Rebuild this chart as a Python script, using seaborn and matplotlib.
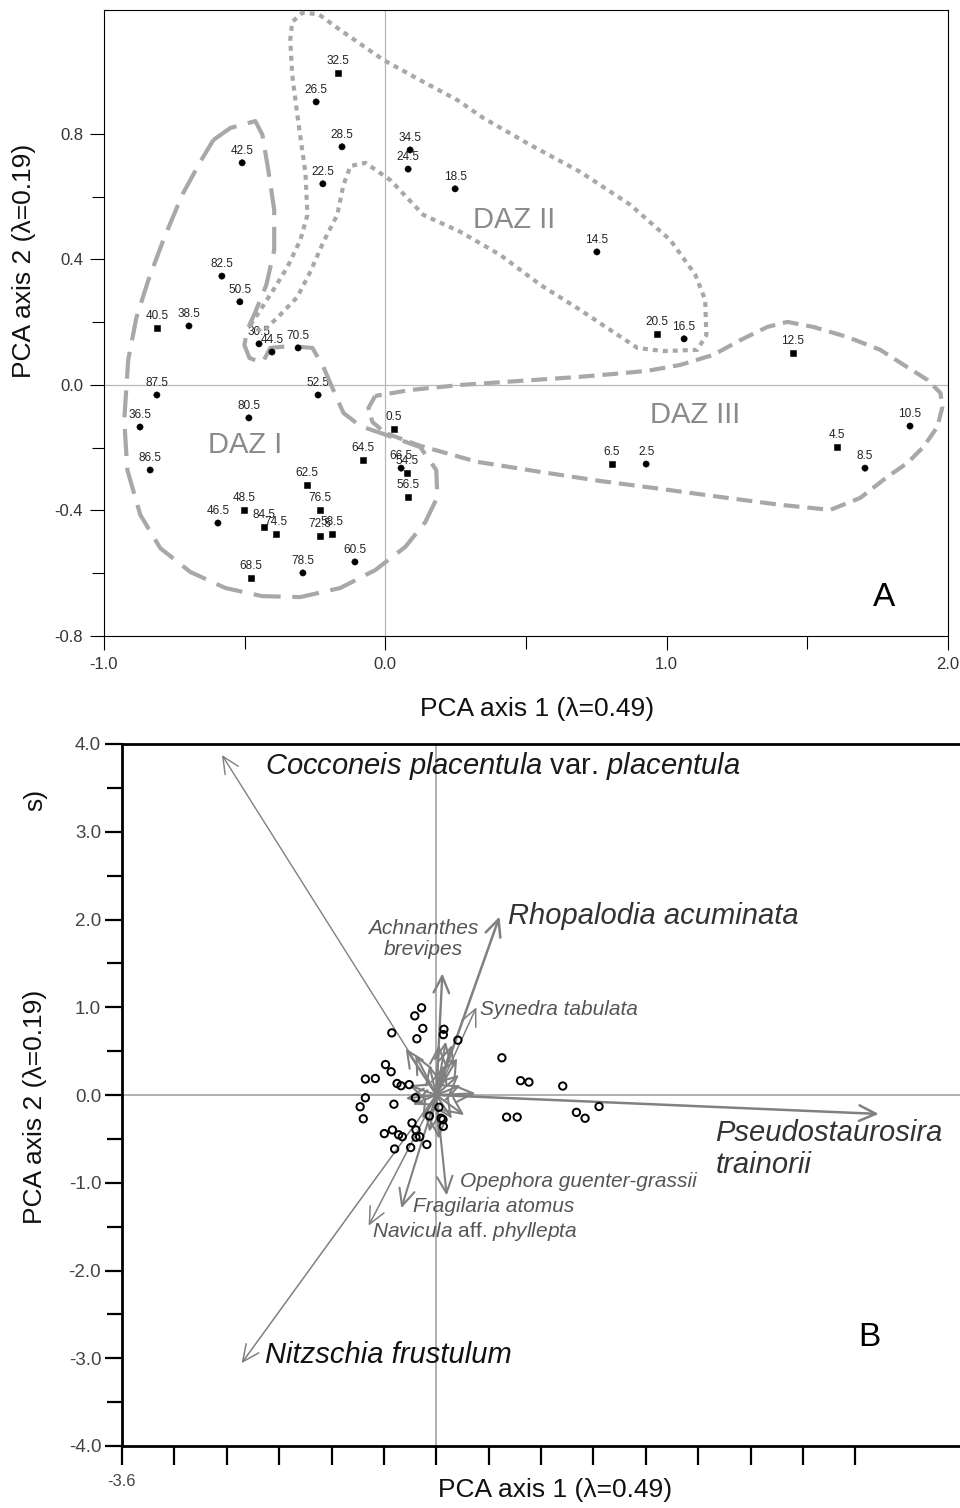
import numpy as np
import pandas as pd
import matplotlib
matplotlib.use("Agg")
import matplotlib.pyplot as plt
import seaborn as sns

sns.set_theme(style="ticks")
plt.rcParams["font.family"] = ["Liberation Sans", "DejaVu Sans"]
plt.rcParams["mathtext.fontset"] = "custom"
plt.rcParams["mathtext.rm"] = "Liberation Sans"
plt.rcParams["mathtext.it"] = "Liberation Sans:italic"

# ---------------- sample scores (depth in cm) ----------------
depth_labels = ["0.5", "2.5", "4.5", "6.5", "8.5", "10.5", "12.5", "14.5", "16.5", "18.5",
                "20.5", "22.5", "24.5", "26.5", "28.5", "30.5", "32.5", "34.5", "36.5", "38.5",
                "40.5", "42.5", "44.5", "46.5", "48.5", "50.5", "52.5", "54.5", "56.5", "58.5",
                "60.5", "62.5", "64.5", "66.5", "68.5", "70.5", "72.5", "74.5", "76.5", "78.5",
                "80.5", "82.5", "84.5", "86.5", "87.5"]
axis1_scores = [0.031, 0.927, 1.606, 0.806, 1.705, 1.865, 1.449, 0.752, 1.062, 0.248,
                0.966, -0.222, 0.081, -0.246, -0.154, -0.449, -0.168, 0.088, -0.872, -0.698,
                -0.812, -0.509, -0.403, -0.595, -0.502, -0.517, -0.239, 0.077, 0.081, -0.190,
                -0.108, -0.278, -0.079, 0.056, -0.477, -0.310, -0.232, -0.389, -0.232, -0.293,
                -0.485, -0.581, -0.431, -0.836, -0.812]
axis2_scores = [-0.140, -0.252, -0.198, -0.252, -0.265, -0.131, 0.102, 0.424, 0.147, 0.625,
                0.163, 0.641, 0.688, 0.902, 0.759, 0.131, 0.994, 0.749, -0.134, 0.188,
                0.182, 0.708, 0.105, -0.440, -0.398, 0.265, -0.032, -0.280, -0.357, -0.475,
                -0.564, -0.319, -0.239, -0.265, -0.615, 0.118, -0.481, -0.475, -0.398, -0.599,
                -0.105, 0.347, -0.453, -0.271, -0.032]
sample_kind = ["square", "circle", "square", "square", "circle", "circle", "square", "circle", "circle", "circle",
               "square", "circle", "circle", "circle", "circle", "circle", "square", "circle", "circle", "circle",
               "square", "circle", "circle", "circle", "square", "circle", "circle", "square", "square", "square",
               "circle", "square", "square", "circle", "square", "circle", "square", "square", "square", "circle",
               "circle", "circle", "square", "circle", "circle"]

# ---------------- hand-drawn zone envelopes (PCA units) ----------------
daz1_x = [-0.611, -0.551, -0.462, -0.437, -0.416, -0.395, -0.395, -0.423, -0.462, -0.491, -0.501,
          -0.483, -0.437, -0.409, -0.338, -0.259, -0.220, -0.185, -0.149, -0.089, -0.007, 0.124,
          0.181, 0.185, 0.142, 0.071, -0.036, -0.160, -0.302, -0.437, -0.569, -0.693, -0.800,
          -0.871, -0.917, -0.928, -0.914, -0.885, -0.842, -0.789, -0.722, -0.658, -0.611]
daz1_y = [0.781, 0.819, 0.841, 0.797, 0.685, 0.558, 0.430, 0.319, 0.233, 0.175, 0.127,
          0.086, 0.070, 0.118, 0.124, 0.118, 0.057, -0.016, -0.089, -0.131, -0.156, -0.198,
          -0.271, -0.357, -0.437, -0.516, -0.590, -0.647, -0.676, -0.673, -0.647, -0.596, -0.520,
          -0.414, -0.271, -0.112, 0.080, 0.214, 0.335, 0.462, 0.606, 0.711, 0.781]
daz2_x = [-0.480, -0.444, -0.398, -0.348, -0.302, -0.277, -0.284, -0.309, -0.331, -0.338, -0.331,
          -0.295, -0.238, -0.160, -0.007, 0.135, 0.256, 0.348, 0.515, 0.693, 0.871, 1.013, 1.102,
          1.137, 1.141, 1.109, 0.988, 0.896, 0.810, 0.693, 0.551, 0.409, 0.267, 0.135, 0.018,
          -0.071, -0.124, -0.149, -0.171, -0.220, -0.267, -0.313, -0.384, -0.437, -0.480]
daz2_y = [0.191, 0.239, 0.303, 0.376, 0.462, 0.542, 0.676, 0.835, 0.988, 1.100, 1.157,
          1.186, 1.182, 1.131, 1.036, 0.966, 0.908, 0.851, 0.765, 0.679, 0.574, 0.462, 0.351,
          0.271, 0.159, 0.112, 0.108, 0.118, 0.169, 0.239, 0.319, 0.414, 0.488, 0.542, 0.653,
          0.708, 0.698, 0.637, 0.542, 0.456, 0.360, 0.280, 0.214, 0.169, 0.191]
daz3_x = [-0.036, -0.060, -0.046, 0.000, 0.124, 0.327, 0.551, 0.764, 0.977, 1.191, 1.404,
          1.582, 1.688, 1.784, 1.855, 1.912, 1.962, 1.980, 1.973, 1.927, 1.855, 1.759, 1.642,
          1.521, 1.429, 1.358, 1.262, 1.166, 1.049, 0.931, 0.810, 0.693, 0.480, 0.267, 0.089, -0.036]
daz3_y = [-0.035, -0.073, -0.118, -0.153, -0.194, -0.245, -0.277, -0.306, -0.331, -0.357, -0.382,
          -0.398, -0.360, -0.293, -0.249, -0.198, -0.134, -0.070, -0.025, 0.016, 0.057, 0.112, 0.153,
          0.185, 0.201, 0.185, 0.143, 0.096, 0.064, 0.045, 0.035, 0.026, 0.013, 0.000, -0.016, -0.035]

# ---------------- species loadings (panel B) ----------------
species_names = ["Cocconeis placentula var. placentula", "Rhopalodia acuminata", "Achnanthes brevipes",
                 "Synedra tabulata", "Pseudostaurosira trainorii", "Opephora guenter-grassii",
                 "Fragilaria atomus", "Navicula aff. phyllepta", "Nitzschia frustulum",
                 "sp1", "sp2", "sp3", "sp4", "sp5", "sp6", "sp7", "sp8", "sp9", "sp10",
                 "sp11", "sp12", "sp13", "sp14", "sp15", "sp16", "sp17", "sp18", "sp19"]
species_x = [-2.455, 0.725, 0.07, 0.46, 5.07, 0.12, -0.40, -0.775, -2.23,
             -0.35, -0.24, 0.11, 0.18, 0.24, 0.26, 0.28, 0.32, 0.18, -0.27,
             -0.31, -0.35, -0.08, 0.03, -0.16, -0.08, 0.09, 0.03, 0.45]
species_y = [3.875, 2.034, 1.386, 1.00, -0.216, -1.145, -1.29, -1.49, -3.057,
             0.53, 0.46, 0.61, 0.57, 0.42, 0.23, 0.11, -0.23, -0.27, -0.11,
             0.11, -0.04, -0.42, -0.50, -0.27, 0.34, 0.34, 0.57, 0.02]
species_width = [1.0, 1.8, 1.7, 1.1, 1.8, 1.5, 1.5, 1.1, 1.1,
                 1.5, 1.5, 1.5, 1.5, 1.5, 1.5, 1.5, 1.5, 1.5, 1.5,
                 1.5, 1.5, 1.5, 1.5, 1.5, 1.5, 1.5, 1.5, 1.5]

samples = pd.DataFrame({"depth": depth_labels, "pc1": axis1_scores,
                        "pc2": axis2_scores, "kind": sample_kind})

W, H = 960, 1508
fig = plt.figure(figsize=(W / 100, H / 100), dpi=100)
axA = fig.add_axes([104 / W, 1 - 636 / H, 844 / W, 626 / H])
axB = fig.add_axes([122 / W, 1 - 1446 / H, 838 / W, 702 / H])

# ======================= Panel A =======================
axA.axhline(0, color="#b8b8b8", lw=0.9, zorder=0)
axA.axvline(0, color="#b8b8b8", lw=0.9, zorder=0)

outline_col = "#a8a8a8"
axA.plot(daz1_x, daz1_y, color=outline_col, lw=3.0, dashes=(6.5, 2.8),
         solid_joinstyle="round", dash_capstyle="butt", zorder=3)
axA.plot(daz2_x, daz2_y, color=outline_col, lw=3.0, dashes=(1.2, 1.2),
         dash_capstyle="butt", zorder=3)
axA.plot(daz3_x, daz3_y, color=outline_col, lw=3.0, dashes=(3.8, 1.9),
         dash_capstyle="butt", zorder=3)

sns.scatterplot(data=samples, x="pc1", y="pc2", style="kind",
                markers={"square": "s", "circle": "o"}, color="black",
                edgecolor="black", linewidth=0.4, s=20, legend=False,
                ax=axA, zorder=4)
for d, x, y in zip(depth_labels, axis1_scores, axis2_scores):
    axA.annotate(d, (x, y), xytext=(0, 8.5), textcoords="offset points",
                 ha="center", va="center", fontsize=8.5, color="#222222", zorder=2)

for txt, x, y in [("DAZ II", 0.459, 0.526), ("DAZ I", -0.498, -0.191), ("DAZ III", 1.102, -0.096)]:
    axA.text(x, y, txt, fontsize=21, color="#8a8a8a", ha="center", va="center", zorder=5)
axA.text(1.774, -0.676, "A", fontsize=24, color="black", ha="center", va="center")

axA.set_xlim(-1.0, 2.0)
axA.set_ylim(-0.8, 1.195)
axA.set_xticks([-1.0, 0.0, 1.0, 2.0])
axA.set_xticklabels(["-1.0", "0.0", "1.0", "2.0"])
axA.set_xticks([-0.5, 0.5, 1.5], minor=True)
axA.set_yticks([-0.8, -0.4, 0.0, 0.4, 0.8])
axA.set_yticklabels(["-0.8", "-0.4", "0.0", "0.4", "0.8"])
axA.set_yticks([-0.6, -0.2, 0.2, 0.6], minor=True)
axA.tick_params(which="major", direction="out", length=10, width=0.8, colors="black",
                labelcolor="#333333", labelsize=12, pad=5)
axA.tick_params(which="minor", direction="out", length=9, width=0.8, colors="black")
for sp in axA.spines.values():
    sp.set_visible(True)
    sp.set_color("black")
    sp.set_linewidth(0.8)
axA.set_xlabel("PCA axis 1 (λ=0.49)", fontsize=19, color="#111111")
axA.set_ylabel("PCA axis 2 (λ=0.19)", fontsize=19, color="#111111")
axA.xaxis.set_label_coords(0.513, -0.098)
axA.yaxis.set_label_coords(-0.081, 0.60)

# ======================= Panel B =======================
axB.axhline(0, color="#b0b0b0", lw=1.4, zorder=0)
axB.axvline(0, color="#b0b0b0", lw=1.4, zorder=0)

for sx, sy, lw in zip(species_x, species_y, species_width):
    axB.annotate("", xy=(sx, sy), xytext=(0, 0),
                 arrowprops=dict(arrowstyle="->,head_length=0.6,head_width=0.28",
                                 color="#808080", lw=lw, shrinkA=0, shrinkB=0,
                                 mutation_scale=20), zorder=2)

sns.scatterplot(data=samples, x="pc1", y="pc2", marker="o", s=28,
                color="white", edgecolor="black", linewidth=1.4, legend=False,
                ax=axB, zorder=4)
axB.collections[-1].set_facecolor("none")

big = 21
small = 15
axB.text(-1.966, 3.75, r"$\mathit{Cocconeis\ placentula}$ var. $\mathit{placentula}$",
         fontsize=big, color="#1a1a1a", ha="left", va="center")
axB.text(0.818, 2.04, "Rhopalodia acuminata", fontsize=big, style="italic",
         color="#333333", ha="left", va="center")
axB.text(-0.144, 1.78, "Achnanthes\nbrevipes", fontsize=small, style="italic",
         color="#555555", ha="center", va="center", linespacing=1.15)
axB.text(0.497, 0.98, "Synedra tabulata", fontsize=small, style="italic",
         color="#555555", ha="left", va="center")
axB.text(3.20, -0.615, "Pseudostaurosira\ntrainorii", fontsize=big, style="italic",
         color="#333333", ha="left", va="center", linespacing=1.15)
axB.text(0.268, -0.99, "Opephora guenter-grassii", fontsize=small, style="italic",
         color="#555555", ha="left", va="center")
axB.text(-0.27, -1.265, "Fragilaria atomus", fontsize=small, style="italic",
         color="#555555", ha="left", va="center")
axB.text(-0.74, -1.55, r"$\mathit{Navicula}$ aff. $\mathit{phyllepta}$", fontsize=small,
         color="#555555", ha="left", va="center")
axB.text(-1.966, -2.963, "Nitzschia frustulum", fontsize=big, style="italic",
         color="#111111", ha="left", va="center")
axB.text(4.967, -2.758, "B", fontsize=24, color="black", ha="center", va="center")

axB.set_xlim(-3.6, 6.0)
axB.set_ylim(-4.0, 4.0)
xt = np.round(np.arange(-3.6, 4.81, 0.6), 1)
axB.set_xticks(xt)
axB.set_xticklabels(["-3.6"] + [""] * (len(xt) - 1))
axB.set_yticks(np.arange(-4, 5, 1))
axB.set_yticklabels(["-4.0", "-3.0", "-2.0", "-1.0", "0.0", "1.0", "2.0", "3.0", "4.0"])
axB.set_yticks(np.arange(-3.5, 4, 1), minor=True)
axB.tick_params(axis="x", which="major", direction="out", length=14, width=1.6,
                colors="black", labelcolor="#444444", labelsize=12, pad=6)
axB.tick_params(axis="y", which="major", direction="out", length=12, width=1.6,
                colors="black", labelcolor="#444444", labelsize=13.5, pad=3)
axB.tick_params(axis="y", which="minor", direction="out", length=11, width=1.6, colors="black")
for side in ["left", "bottom", "top"]:
    axB.spines[side].set_visible(True)
    axB.spines[side].set_color("black")
    axB.spines[side].set_linewidth(2.0)
axB.spines["right"].set_visible(False)
axB.set_xlabel("PCA axis 1 (λ=0.49)", fontsize=19, color="#111111")
axB.set_ylabel("PCA axis 2 (λ=0.19)", fontsize=19, color="#111111")
axB.xaxis.set_label_coords(0.517, -0.045)
axB.yaxis.set_label_coords(-0.089, 0.483)
fig.text(35 / W, 1 - 800 / H, "s)", rotation=90, fontsize=19, color="#111111",
         ha="center", va="center")

fig.savefig("out.png", dpi=100)
